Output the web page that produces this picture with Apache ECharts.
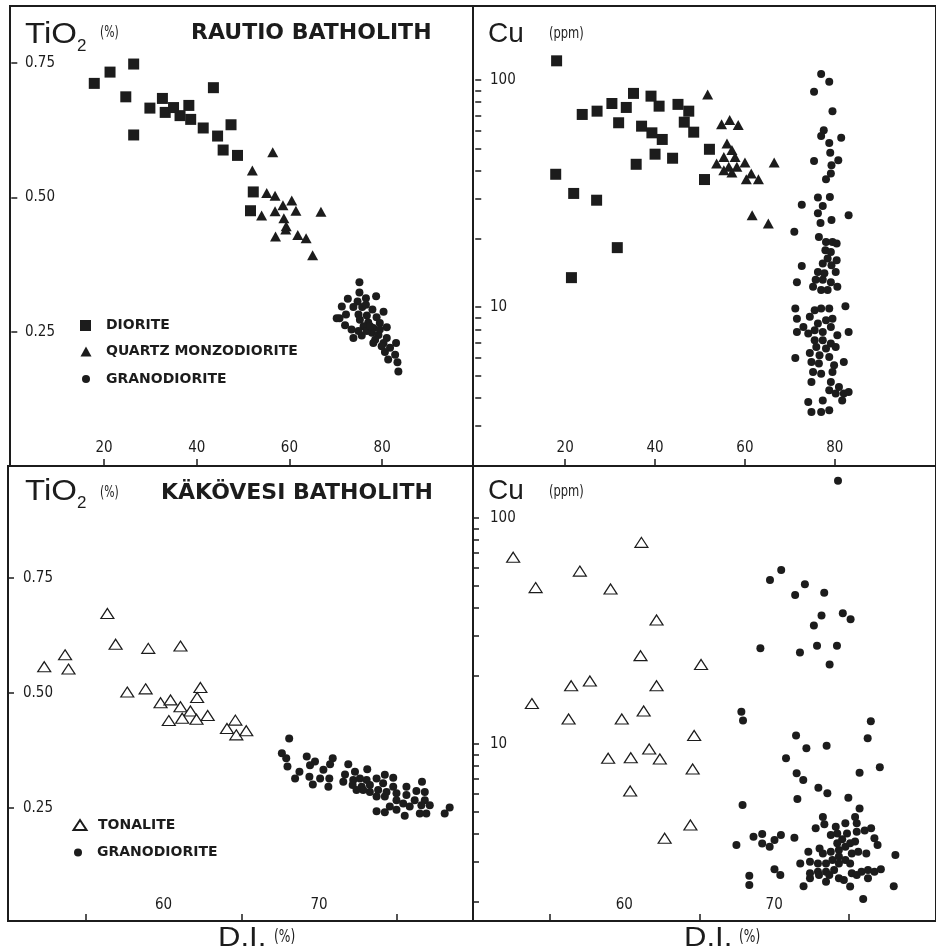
<!DOCTYPE html>
<html><head><meta charset="utf-8">
<script src="https://cdn.jsdelivr.net/npm/echarts@6/dist/echarts.min.js"></script>
<style>html,body{margin:0;padding:0;background:#fff}#c{width:936px;height:952px}</style>
</head><body><div id="c"></div>
<script>
// ---------- DATA ----------
// Rautio batholith, TiO2 (%) vs D.I. (%)
const rautioDioriteTiO2 = [[17.9,0.712],[21.3,0.733],[26.4,0.748],[24.7,0.687],[26.4,0.616],[29.9,0.666],[32.6,0.684],[33.2,0.658],[35.0,0.667],[36.4,0.652],[38.3,0.671],[38.7,0.645],[41.4,0.629],[43.6,0.704],[44.5,0.614],[47.4,0.635],[45.7,0.588],[48.8,0.578],[52.2,0.510],[51.6,0.475]];
const rautioQmdTiO2 = [[52.0,0.550],[56.4,0.584],[55.1,0.508],[56.9,0.503],[60.5,0.494],[58.6,0.485],[54.0,0.466],[56.9,0.474],[61.4,0.475],[66.8,0.473],[58.8,0.461],[59.3,0.446],[57.0,0.427],[59.2,0.440],[61.8,0.430],[63.6,0.424],[65.0,0.392]];
const rautioGranoTiO2 = [[75.1,0.342],[75.1,0.323],[78.7,0.316],[72.6,0.311],[76.5,0.312],[74.7,0.306],[71.3,0.297],[73.8,0.296],[75.7,0.296],[77.9,0.291],[80.3,0.287],[70.8,0.275],[72.2,0.282],[74.9,0.282],[76.7,0.280],[78.8,0.277],[73.4,0.254],[75.2,0.272],[77.0,0.267],[79.5,0.266],[72.0,0.262],[76.0,0.260],[78.1,0.257],[81.0,0.258],[70.2,0.275],[73.8,0.238],[75.6,0.243],[77.8,0.248],[79.2,0.244],[81.0,0.238],[76.7,0.251],[78.5,0.235],[80.3,0.229],[83.0,0.229],[78.1,0.229],[79.9,0.223],[81.7,0.220],[80.6,0.212],[82.8,0.207],[81.3,0.198],[83.3,0.193],[83.5,0.176],[74.9,0.251],[76.5,0.300],[77.4,0.260],[79.5,0.254]];
// Rautio batholith, Cu (ppm) vs D.I. (%)
const rautioDioriteCu = [[18.1,121.6],[23.8,70.6],[27.1,73.0],[30.4,78.9],[33.6,75.8],[35.2,87.4],[39.1,85.0],[40.9,76.8],[45.1,78.2],[47.5,73.0],[31.9,64.9],[37.0,62.7],[39.3,58.6],[41.6,54.8],[46.5,65.3],[48.6,59.0],[52.1,49.6],[40.0,47.2],[43.9,45.3],[35.8,42.6],[51.0,36.5],[17.9,38.5],[21.9,31.7],[27.0,29.6],[31.6,18.3],[21.4,13.5]];
const rautioQmdCu = [[51.7,86.5],[54.8,64.0],[56.6,66.7],[58.5,63.4],[56.0,52.6],[57.1,49.2],[55.3,45.9],[57.8,45.9],[53.7,42.9],[60.0,43.4],[56.4,41.5],[58.2,41.5],[55.3,40.1],[57.1,39.2],[61.4,38.8],[60.3,36.6],[63.0,36.6],[66.5,43.4],[61.6,25.4],[65.2,23.4]];
const rautioGranoCu = [[76.95,106.3],[78.75,98.3],[75.37,88.8],[79.47,73.0],[77.53,60.2],[76.95,56.7],[81.41,55.7],[78.75,52.9],[78.97,47.9],[75.37,44.0],[80.76,44.4],[79.25,42.2],[79.11,38.8],[78.03,36.6],[76.23,30.4],[78.89,30.6],[77.31,27.9],[72.64,28.3],[76.23,25.9],[83.06,25.4],[79.25,24.2],[76.81,23.5],[70.98,21.5],[76.45,20.4],[78.03,19.4],[79.47,19.4],[80.40,19.1],[77.89,17.8],[79.11,17.5],[78.39,16.4],[80.40,16.1],[72.64,15.2],[77.31,15.6],[79.25,15.3],[76.23,14.3],[77.67,14.1],[80.19,14.3],[71.56,12.9],[75.73,13.2],[77.31,13.2],[79.11,12.9],[80.55,12.3],[75.15,12.3],[76.95,11.9],[78.39,11.9],[82.35,10.1],[71.20,9.87],[75.51,9.70],[76.95,9.87],[78.75,9.87],[74.43,9.07],[71.56,8.91],[73.0,8.19],[76.23,8.48],[78.03,8.76],[79.47,8.91],[71.56,7.78],[74.08,7.66],[75.51,7.92],[77.31,7.78],[83.06,7.78],[79.11,8.19],[80.55,7.53],[75.51,7.15],[77.31,7.15],[79.11,6.92],[75.87,6.69],[78.03,6.58],[80.19,6.69],[71.20,5.98],[74.43,6.29],[76.59,6.15],[78.75,6.04],[81.99,5.74],[74.79,5.74],[76.45,5.65],[79.83,5.55],[75.15,5.19],[76.95,5.10],[79.47,5.19],[74.79,4.69],[79.11,4.69],[80.91,4.46],[80.19,4.17],[81.99,4.17],[83.06,4.24],[78.75,4.31],[81.63,3.89],[77.31,3.89],[74.08,3.83],[74.79,3.46],[76.95,3.46],[78.75,3.52]];
// Käkövesi batholith, TiO2 (%) vs D.I. (%)
const kakovesiTonaliteTiO2 = [[52.33,0.557],[53.67,0.583],[53.89,0.552],[56.39,0.673],[56.92,0.606],[59.02,0.597],[61.09,0.602],[57.67,0.502],[58.85,0.509],[62.37,0.512],[62.16,0.490],[59.81,0.479],[60.45,0.485],[61.09,0.470],[61.73,0.461],[60.34,0.440],[61.20,0.445],[62.12,0.443],[62.84,0.451],[64.62,0.441],[64.08,0.423],[64.68,0.409],[65.32,0.418]];
const kakovesiGranoTiO2 = [[68.08,0.401],[67.61,0.369],[67.89,0.358],[67.97,0.340],[69.21,0.362],[69.74,0.351],[70.88,0.358],[70.71,0.345],[69.42,0.343],[70.28,0.333],[68.74,0.329],[68.46,0.314],[69.38,0.318],[70.07,0.314],[70.66,0.314],[69.60,0.301],[70.60,0.296],[71.88,0.345],[71.67,0.323],[72.31,0.329],[73.10,0.334],[71.56,0.307],[72.20,0.311],[72.63,0.314],[73.06,0.311],[73.70,0.314],[72.16,0.300],[72.74,0.296],[73.27,0.300],[74.23,0.322],[74.77,0.316],[74.12,0.304],[74.77,0.296],[73.27,0.285],[73.80,0.289],[74.34,0.285],[74.98,0.282],[75.62,0.296],[76.62,0.307],[73.70,0.275],[74.23,0.275],[74.98,0.267],[75.62,0.278],[76.26,0.287],[76.80,0.285],[76.15,0.267],[76.80,0.267],[75.41,0.260],[75.83,0.253],[76.58,0.256],[77.12,0.256],[76.90,0.238],[76.48,0.238],[73.70,0.243],[74.23,0.241],[74.55,0.253],[74.98,0.246],[75.51,0.233],[78.08,0.238],[78.40,0.251],[72.84,0.289],[72.41,0.289]];
// Käkövesi batholith, Cu (ppm) vs D.I. (%)
const kakovesiTonaliteCu = [[52.58,67.0],[54.08,49.2],[57.03,58.2],[59.08,48.5],[61.14,78.0],[62.15,35.4],[61.08,24.6],[65.12,22.5],[56.45,18.1],[57.70,19.0],[62.15,18.1],[53.83,15.1],[56.28,12.9],[59.83,12.9],[61.29,14.0],[64.66,10.9],[61.66,9.51],[58.92,8.65],[60.43,8.70],[62.37,8.59],[64.56,7.75],[60.39,6.20],[64.41,4.38],[62.69,3.83]];
const kakovesiGranoCu = [[74.26,146.2],[69.72,53.2],[70.47,58.9],[72.05,50.9],[71.40,45.6],[73.34,46.7],[73.16,37.0],[74.58,37.9],[75.10,35.6],[72.65,33.4],[69.08,26.5],[71.72,25.4],[72.86,27.2],[74.19,27.2],[73.70,22.5],
 [67.81,13.9],[67.92,12.7],[71.46,10.9],[72.15,9.57],[73.50,9.83],[76.24,10.6],[76.45,12.6],[70.79,8.65],[71.50,7.42],[71.94,6.93],[75.70,7.46],[77.05,7.89],[72.95,6.41],[73.55,6.05],[71.55,5.71],[74.95,5.78],[75.70,5.19],[67.89,5.37],
 [67.48,3.57],[68.62,3.89],[69.20,4.00],[69.20,3.63],[69.70,3.51],[70.02,3.76],[70.45,3.96],[71.35,3.85],[68.34,2.61],[68.34,2.38],[70.02,2.79],[70.41,2.63],[71.96,2.35],[72.39,2.55],[72.77,4.24],[73.25,4.76],[73.35,4.42],[75.40,4.76],[74.11,4.31],[74.75,4.46],[75.51,4.46],[75.51,4.09],[76.04,4.14],[76.47,4.24],[76.69,3.83],[76.90,3.57],[73.78,3.96],[74.21,4.02],[74.54,3.79],[73.03,3.45],[72.28,3.34],[72.39,3.01],[72.92,2.96],[73.46,2.96],[73.89,3.07],[74.32,3.40],[74.75,3.51],[75.07,3.64],[75.40,3.70],[75.18,3.28],[75.61,3.34],[76.15,3.28],[73.78,3.34],[74.32,3.18],[74.75,3.07],[75.07,2.96],[75.18,2.68],[74.32,2.96],[72.39,2.68],[72.92,2.72],[73.46,2.72],[72.99,2.63],[73.46,2.46],[74.32,2.55],[74.65,2.50],[75.07,2.34],[75.51,2.63],[75.83,2.72],[76.26,2.77],[76.69,2.72],[77.12,2.79],[76.26,2.55],[78.09,3.23],[77.98,2.35],[75.94,2.06],[73.68,2.63],[74.00,2.77],[74.21,3.64],[73.25,3.28],[74.86,4.02],[71.74,2.96]];
// Tick labels
const tlXLabels = [20, 40, 60, 80];
const tlYLabels = [0.25, 0.50, 0.75];
const blXLabels = [60, 70];
const blXTicks = [55, 65, 75];
const blYLabels = [0.25, 0.50, 0.75];
const cuLabels = [10, 100];
const cuTicks = [2,3,4,5,6,7,8,9,10,20,30,40,50,60,70,80,90,100];

// ---------- STYLE ----------
const INK = '#1c1c1c';
const NARROW = '"DejaVu Sans Condensed","Liberation Sans Narrow",sans-serif';
const SANS = '"Liberation Sans",Arial,sans-serif';
const DEJA = '"DejaVu Sans",sans-serif';

function xAx(grid, min, max, labels, ticks, margin) {
  return {type:'value', gridIndex:grid, min:min, max:max,
    axisLine:{show:false}, splitLine:{show:false},
    axisTick:{show:true, inside:true, length:7, lineStyle:{color:INK, width:1.5}, customValues:ticks},
    axisLabel:{inside:true, margin:margin, customValues:labels, color:INK, fontFamily:NARROW, fontSize:15,
      formatter: v => String(v)}};
}
function yAx(grid, type, min, max, labels, ticks, margin, fmt) {
  return {type:type, gridIndex:grid, min:min, max:max, logBase:10,
    axisLine:{show:false}, splitLine:{show:false},
    axisTick:{show:true, inside:true, length:6, lineStyle:{color:INK, width:1.5}, customValues:ticks},
    axisLabel:{inside:true, margin:margin, customValues:labels, color:INK, fontFamily:NARROW, fontSize:15,
      formatter: fmt}};
}
const f2 = v => v.toFixed(2);
const fi = v => String(Math.round(v));

const sq = {symbol:'rect', symbolSize:11, itemStyle:{color:INK, opacity:1}};
const tri = {symbol:'triangle', symbolSize:[11,10], itemStyle:{color:INK, opacity:1}};
const dot = {symbol:'circle', symbolSize:8, itemStyle:{color:INK, opacity:1}};
const otri = {symbol:'triangle', symbolSize:[13,10], itemStyle:{color:'#fff', borderColor:INK, borderWidth:1.2, opacity:1}};

function sc(name, data, xi, st) {
  return Object.assign({type:'scatter', name:name, data:data, xAxisIndex:xi, yAxisIndex:xi, silent:true}, st);
}

function leg(name, left, top, w, h, pad) {
  return {show:true, data:[name], left:left, top:top, orient:'vertical', padding:0,
    itemWidth:w, itemHeight:h, selectedMode:false,
    textStyle:{color:INK, fontFamily:DEJA, fontWeight:'bold', fontSize:14, padding:[0,0,0,pad]}};
}
function txt(x, y, s, size, fam, weight, sx) {
  return {type:'text', x:x, y:y, scaleX:sx||1, silent:true,
    style:{text:s, fontSize:size, fontFamily:fam, fontWeight:weight||'normal', fill:INK, align:'left', verticalAlign:'middle'}};
}

const option = {
  animation:false,
  backgroundColor:'#fff',
  grid:[
    {left:10, top:6, width:463, height:460, show:true, borderColor:INK, borderWidth:2},
    {left:473, top:6, width:477, height:460, show:true, borderColor:INK, borderWidth:2},
    {left:8, top:466, width:465, height:455, show:true, borderColor:INK, borderWidth:2},
    {left:473, top:466, width:477, height:455, show:true, borderColor:INK, borderWidth:2}
  ],
  xAxis:[
    xAx(0, -0.28, 99.6, tlXLabels, tlXLabels, 10),
    xAx(1, -0.5, 102.5, tlXLabels, tlXLabels, 10),
    xAx(2, 50, 79.9, blXLabels, blXTicks, 8),
    xAx(3, 49.9, 80.8, blXLabels, blXTicks, 8)
  ],
  yAxis:[
    yAx(0, 'value', 0, 0.856, tlYLabels, tlYLabels, 15, f2),
    yAx(1, 'log', 2, 212, cuLabels, cuTicks, 17, fi),
    yAx(2, 'value', 0.0043, 0.9935, blYLabels, blYLabels, 15, f2),
    yAx(3, 'log', 1.648, 169.8, cuLabels, cuTicks, 17, fi)
  ],
  legend:[
    leg('DIORITE', 80, 318.5, 11, 11, 10),
    leg('QUARTZ MONZODIORITE', 80.5, 344.5, 11, 10, 9.5),
    leg('GRANODIORITE', 82, 372, 8, 8, 11),
    leg('TONALITE', 72.5, 818, 13, 10, 6.5),
    leg('GRANODIORITE', 74, 845.5, 8, 8, 10)
  ],
  series:[
    sc('DIORITE', rautioDioriteTiO2, 0, sq),
    sc('QUARTZ MONZODIORITE', rautioQmdTiO2, 0, tri),
    sc('GRANODIORITE', rautioGranoTiO2, 0, dot),
    sc('DIORITE', rautioDioriteCu, 1, sq),
    sc('QUARTZ MONZODIORITE', rautioQmdCu, 1, tri),
    sc('GRANODIORITE', rautioGranoCu, 1, dot),
    sc('TONALITE', kakovesiTonaliteTiO2, 2, otri),
    sc('GRANODIORITE', kakovesiGranoTiO2, 2, dot),
    sc('TONALITE', kakovesiTonaliteCu, 3, otri),
    sc('GRANODIORITE', kakovesiGranoCu, 3, dot)
  ],
  graphic:[
    txt(25, 35, 'TiO', 30, SANS, 'normal', 1.1), txt(77, 46, '2', 17, SANS), txt(100, 33, '(%)', 15, NARROW, 'normal', 0.8),
    txt(191, 33, 'RAUTIO BATHOLITH', 22, DEJA, 'bold'),
    txt(488, 34, 'Cu', 28, SANS), txt(549, 34, '(ppm)', 16, NARROW, 'normal', 0.8),
    txt(25, 492, 'TiO', 30, SANS, 'normal', 1.1), txt(77, 503, '2', 17, SANS), txt(100, 493, '(%)', 15, NARROW, 'normal', 0.8),
    txt(161, 493, 'KÄKÖVESI BATHOLITH', 22, DEJA, 'bold'),
    txt(488, 491, 'Cu', 28, SANS), txt(549, 492, '(ppm)', 16, NARROW, 'normal', 0.8),
    txt(218, 939, 'D.I.', 27, SANS, 'normal', 1.15), txt(274, 938, '(%)', 17, NARROW, 'normal', 0.8),
    txt(684, 939, 'D.I.', 27, SANS, 'normal', 1.15), txt(739, 938, '(%)', 17, NARROW, 'normal', 0.8)
  ]
};
const chart = echarts.init(document.getElementById('c'), null, {renderer:'canvas'});
chart.setOption(option);
</script></body></html>
